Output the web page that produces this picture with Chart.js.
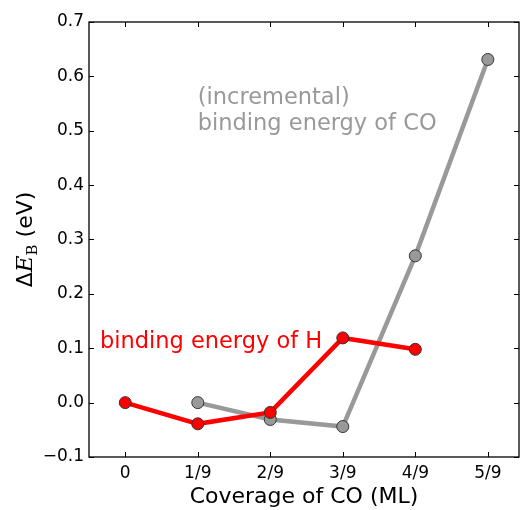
<!DOCTYPE html>
<html>
<head>
<meta charset="utf-8">
<script src="https://cdn.jsdelivr.net/npm/chart.js@4"></script>
<style>
  html, body { margin: 0; padding: 0; background: #fff; overflow: hidden; }
  #wrap { width: 521px; height: 510px; overflow: hidden; }
</style>
</head>
<body>
<div id="wrap"><canvas id="chart" width="526" height="510"></canvas></div>
<script>
// coverage of CO, one tick per category
var coverage = ["0", "1/9", "2/9", "3/9", "4/9", "5/9"];
var yTicks = [-0.1, 0.0, 0.1, 0.2, 0.3, 0.4, 0.5, 0.6, 0.7];

// binding energy of H (red)
var hIndex = [0, 1, 2, 3, 4];
var hValues = [0.0, -0.039, -0.018, 0.119, 0.098];

// incremental binding energy of CO (gray)
var coIndex = [1, 2, 3, 4, 5];
var coValues = [0.0, -0.031, -0.044, 0.27, 0.631];

var FONT = "'DejaVu Sans', sans-serif";
var GRAY = "#999999";

function pts(xs, ys) {
  return xs.map(function (x, i) { return { x: x, y: ys[i] }; });
}

// inward ticks on all four sides, plus the extra text
var decor = {
  id: "decor",
  afterDraw: function (chart) {
    var ctx = chart.ctx, a = chart.chartArea;
    var xs = chart.scales.x, ys = chart.scales.y;
    ctx.save();
    ctx.strokeStyle = "#000";
    ctx.lineWidth = 1;
    ctx.beginPath();
    coverage.forEach(function (c, i) {
      var px = Math.round(xs.getPixelForValue(i)) + 0.5;
      ctx.moveTo(px, a.bottom); ctx.lineTo(px, a.bottom - 5);
      ctx.moveTo(px, a.top); ctx.lineTo(px, a.top + 5);
    });
    yTicks.forEach(function (v) {
      var py = Math.round(ys.getPixelForValue(v)) + 0.5;
      ctx.moveTo(a.left, py); ctx.lineTo(a.left + 5, py);
      ctx.moveTo(a.right, py); ctx.lineTo(a.right - 5, py);
    });
    ctx.stroke();

    // frame
    ctx.lineWidth = 1.3;
    ctx.strokeStyle = "#000";
    ctx.strokeRect(a.left, a.top, a.right - a.left, a.bottom - a.top);

    // annotations
    ctx.font = "22.5px " + FONT;
    ctx.textBaseline = "middle";
    ctx.textAlign = "left";
    ctx.fillStyle = GRAY;
    ctx.fillText("(incremental)", xs.getPixelForValue(1), ys.getPixelForValue(0.56));
    ctx.fillText("binding energy of CO", xs.getPixelForValue(1), ys.getPixelForValue(0.512));
    ctx.fillStyle = "#ff0000";
    ctx.fillText("binding energy of H", xs.getPixelForValue(-0.35), ys.getPixelForValue(0.111));

    // y axis title: ΔE_B (eV)
    ctx.translate(26, (a.top + a.bottom) / 2);
    ctx.rotate(-Math.PI / 2);
    ctx.fillStyle = "#000";
    ctx.textBaseline = "middle";
    var parts = [
      { t: "Δ", f: "22px " + FONT, dy: 0 },
      { t: "E", f: "italic 23px 'DejaVu Serif', serif", dy: 0 },
      { t: "B", f: "15px 'DejaVu Serif', serif", dy: 7 },
      { t: " (eV)", f: "22px " + FONT, dy: 0 }
    ];
    var w = 0;
    parts.forEach(function (p) { ctx.font = p.f; w += ctx.measureText(p.t).width; });
    var x = -w / 2;
    parts.forEach(function (p) {
      ctx.font = p.f;
      ctx.fillText(p.t, x, p.dy);
      x += ctx.measureText(p.t).width;
    });
    ctx.restore();
  }
};

var canvas = document.getElementById("chart");
var config = {
  type: "line",
  data: {
    datasets: [
      {
        label: "H",
        data: pts(hIndex, hValues),
        borderColor: "#ff0000",
        backgroundColor: "#ff0000",
        borderWidth: 4.5,
        pointRadius: 6,
        pointBorderColor: "#333333",
        pointBorderWidth: 1,
        pointBackgroundColor: "#ff0000"
      },
      {
        label: "CO",
        data: pts(coIndex, coValues),
        borderColor: GRAY,
        backgroundColor: GRAY,
        borderWidth: 4.5,
        pointRadius: 6,
        pointBorderColor: "#333333",
        pointBorderWidth: 1,
        pointBackgroundColor: GRAY
      }
    ]
  },
  options: {
    responsive: false,
    animation: false,
    layout: { padding: { left: 0, right: 0, top: 22, bottom: 0 } },
    plugins: { legend: { display: false }, tooltip: { enabled: false } },
    scales: {
      x: {
        type: "linear",
        min: -0.5,
        max: 5.43,
        afterBuildTicks: function (s) {
          s.ticks = coverage.map(function (c, i) { return { value: i }; });
        },
        afterFit: function (s) { s.height = 53; s.paddingLeft = 0; s.paddingRight = 0; },
        grid: { display: false, drawTicks: false },
        border: { display: false },
        ticks: {
          padding: 6,
          color: "#000",
          font: { family: FONT, size: 17 },
          callback: function (v) { return coverage[v]; }
        },
        title: {
          display: true,
          text: "Coverage of CO (ML)",
          color: "#000",
          font: { family: FONT, size: 22 },
          padding: { top: 0, bottom: 0 }
        }
      },
      y: {
        min: -0.1,
        max: 0.7,
        afterBuildTicks: function (s) {
          s.ticks = yTicks.map(function (v) { return { value: v }; });
        },
        afterFit: function (s) { s.width = 89; s.paddingTop = 0; s.paddingBottom = 0; },
        grid: { display: false, drawTicks: false },
        border: { display: false },
        ticks: {
          padding: 5,
          color: "#000",
          font: { family: FONT, size: 17 },
          callback: function (v) { return v.toFixed(1).replace("-", "\u2212"); }
        }
      }
    }
  },
  plugins: [decor]
};

var chart = new Chart(canvas, config);
</script>
</body>
</html>
